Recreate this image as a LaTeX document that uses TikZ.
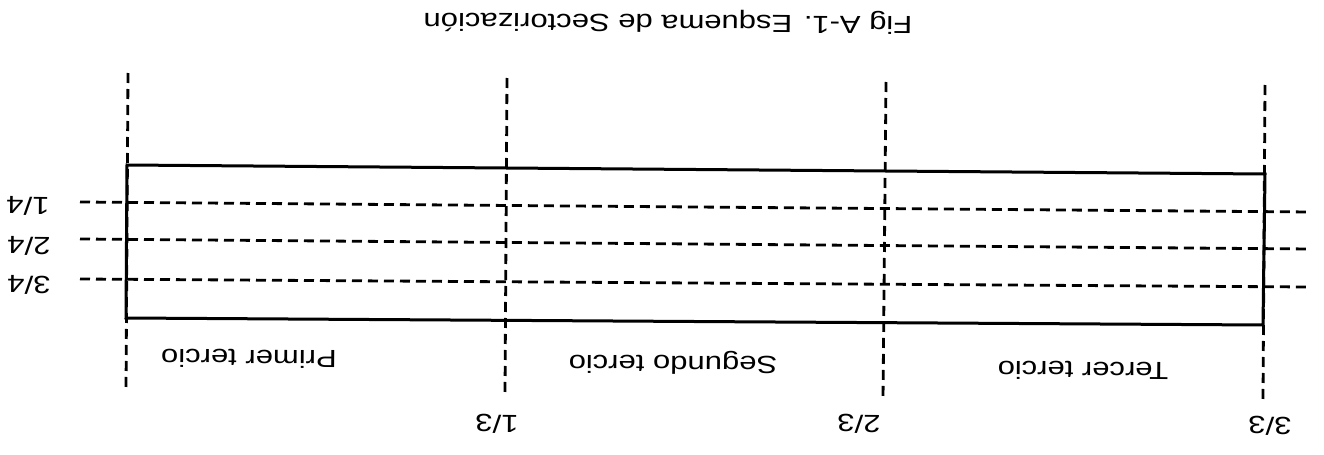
\documentclass[tikz,border=0pt]{standalone}
\usepackage{fontspec}
\setmainfont{Liberation Sans}
\begin{document}
\begin{tikzpicture}[x=0.5pt,y=-0.5pt,
  solidline/.style={line width=1.5pt, line join=miter},
  dashline/.style={line width=1.4pt, dash pattern=on 5pt off 3pt},
  lbl/.style={font=\fontsize{15.5}{18}\selectfont, inner sep=0pt, anchor=base, rotate=179.55}]
\useasboundingbox (0,0) rectangle (1324,455);
% vertical dashed lines
\coordinate (v0t) at (128,73);   \coordinate (v0b) at (126,392);
\coordinate (v1t) at (507,78);   \coordinate (v1b) at (505,395);
\coordinate (v2t) at (886,82);   \coordinate (v2b) at (883,400);
\coordinate (v3t) at (1265,85);  \coordinate (v3b) at (1263,400);
\draw[dashline] (v0t) -- (v0b);
\draw[dashline] (v1t) -- (v1b);
\draw[dashline] (v2t) -- (v2b);
\draw[dashline] (v3t) -- (v3b);
% horizontal dashed lines
\coordinate (h1l) at (80,202);  \coordinate (h1r) at (1311,212);
\coordinate (h2l) at (80,239);  \coordinate (h2r) at (1311,249);
\coordinate (h3l) at (80,279);  \coordinate (h3r) at (1311,287);
\draw[dashline] (h1l) -- (h1r);
\draw[dashline] (h2l) -- (h2r);
\draw[dashline] (h3l) -- (h3r);
% rectangle
\coordinate (tl) at (127,165);
\coordinate (tr) at (1265,174);
\coordinate (br) at (1263,325);
\coordinate (bl) at (126,318);
\draw[solidline] (tl) -- (tr) -- (br) -- (bl) -- cycle;
% texts
\node[lbl] (title) at (668,15) {\scalebox{1}[0.8]{Fig A-1. Esquema de Sectorización}};
\node[lbl] (q1) at (28,197) {\scalebox{1}[0.8]{1/4}};
\node[lbl] (q2) at (29,237) {\scalebox{1}[0.8]{2/4}};
\node[lbl] (q3) at (29,276) {\scalebox{1}[0.8]{3/4}};
\node[lbl] (t1) at (497,415) {\scalebox{1}[0.8]{1/3}};
\node[lbl] (t2) at (859,415) {\scalebox{1}[0.8]{2/3}};
\node[lbl] (t3) at (1270,417) {\scalebox{1}[0.8]{3/3}};
\node[lbl] (s1) at (249,350) {\scalebox{1}[0.8]{Primer tercio}};
\node[lbl] (s2) at (673,356) {\scalebox{1}[0.8]{Segundo tercio}};
\node[lbl] (s3) at (1083,362) {\scalebox{1}[0.8]{Tercer tercio}};
\end{tikzpicture}
\end{document}
